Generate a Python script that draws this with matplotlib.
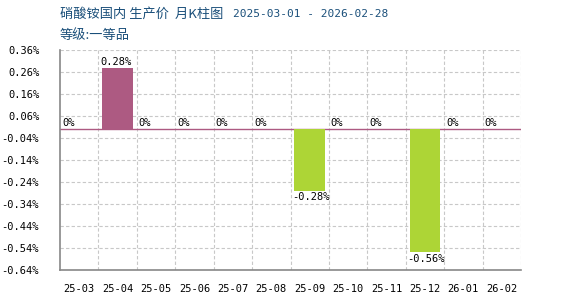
import numpy as np
import matplotlib.pyplot as plt

plt.rcParams['font.family'] = ['Noto Sans CJK SC', 'DejaVu Sans']

# data
months = ['25-03', '25-04', '25-05', '25-06', '25-07', '25-08',
          '25-09', '25-10', '25-11', '25-12', '26-01', '26-02']
values = [0, 0.28, 0, 0, 0, 0, -0.28, 0, 0, -0.56, 0, 0]
yticks = [0.36, 0.26, 0.16, 0.06, -0.04, -0.14, -0.24, -0.34, -0.44, -0.54, -0.64]

up_color = '#ad5a82'
down_color = '#add536'

fig = plt.figure(figsize=(5.7, 3.0), dpi=100)
ax = fig.add_axes([60 / 570, 30 / 300, 461 / 570, 220 / 300])

x = np.arange(len(months))
w = 0.8
colors = [down_color if v < 0 else up_color for v in values]
ax.bar(x, values, width=w, color=colors, zorder=3)
ax.axhline(0, color=up_color, lw=1, zorder=2)

for i, v in enumerate(values):
    lbl = '0%' if v == 0 else '%.2f%%' % v
    if v >= 0:
        ax.text(i - w / 2 - 0.05, v + 0.005, lbl, ha='left', va='bottom',
                fontsize=7.5, family='DejaVu Sans Mono', zorder=4)
    else:
        ax.text(i - w / 2 - 0.05, v - 0.005, lbl, ha='left', va='top',
                fontsize=7.5, family='DejaVu Sans Mono', zorder=4)

ax.set_xlim(-0.5, len(months) - 0.5)
ax.set_ylim(-0.64, 0.36)
ax.set_yticks(yticks)
ax.set_yticklabels(['%.2f%%' % t for t in yticks], family='DejaVu Sans Mono', fontsize=7.5)
ax.set_xticks(x)
ax.set_xticklabels(months, family='DejaVu Sans Mono', fontsize=7.5)
ax.tick_params(axis='x', length=0, pad=10)
ax.tick_params(axis='y', length=0, pad=15)

# grid
for t in yticks:
    ax.axhline(t, color='#c8c8c8', lw=0.8, ls=(0, (3, 2)), zorder=1)
for b in np.arange(0.5, len(months), 1):
    ax.axvline(b, color='#c8c8c8', lw=0.8, ls=(0, (3, 2)), zorder=1)

for s in ['top', 'right']:
    ax.spines[s].set_visible(False)
ax.spines['left'].set_color('#888888')
ax.spines['bottom'].set_color('#888888')
ax.spines['left'].set_linewidth(1.2)
ax.spines['bottom'].set_linewidth(1.2)

fig.text(60 / 570, 1 - 14 / 300, '硝酸铵国内 生产价  月K柱图', fontsize=9.5,
         color='#1a4f7a', va='center')
fig.text(233 / 570, 1 - 14 / 300, '2025-03-01 - 2026-02-28', fontsize=8,
         color='#1a4f7a', va='center', family='DejaVu Sans Mono')
fig.text(60 / 570, 1 - 35 / 300, '等级:一等品', fontsize=9.5,
         color='#1a4f7a', va='center')

fig.savefig('out.png', dpi=100)
